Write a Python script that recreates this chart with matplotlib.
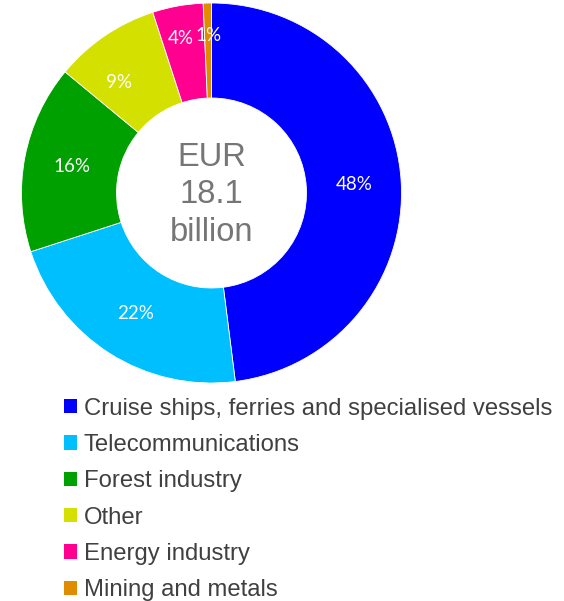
import matplotlib
matplotlib.use("Agg")
import matplotlib.pyplot as plt
import numpy as np

sectors = ["Cruise ships, ferries and specialised vessels", "Telecommunications",
           "Forest industry", "Other", "Energy industry", "Mining and metals"]
shares = [48.0, 22.0, 16.0, 9.0, 4.3, 0.7]
colors = ["#0000FF", "#00BFFF", "#00A000", "#D4E000", "#FF0090", "#E08C00"]
label_dist = [0.75, 0.75, 0.75, 0.76, 0.83, 0.83]
center_text = "EUR\n18.1\nbillion"

fig = plt.figure(figsize=(5.64, 6.01), dpi=100)
W, H = 564, 601
cx, cy, r = 211.5, 193, 190
ax = fig.add_axes([(cx - r) / W, 1 - (cy + r) / H, 2 * r / W, 2 * r / H])

wedges, _ = ax.pie(shares, colors=colors, startangle=90, counterclock=False,
                   radius=1, wedgeprops=dict(width=0.5, edgecolor="white", linewidth=0.6))
ax.set_xlim(-1, 1)
ax.set_ylim(-1, 1)
ax.set_aspect("equal")
ax.axis("off")

total = sum(shares)
cum = 0
for i, (val, d) in enumerate(zip(shares, label_dist)):
    mid = (cum + val / 2) / total * 2 * np.pi
    cum += val
    if i == 3:
        mid -= 0.1
    if i == 4:
        mid -= 0.02
    ax.text(d * np.sin(mid), d * np.cos(mid), "%.0f%%" % (val / total * 100),
            ha="center", va="center", color="white", fontsize=13.5, family="Lato")

ax.text(0, -0.01, center_text, ha="center", va="center", color="#767676",
        fontsize=23.5, family="Liberation Sans", linespacing=1.28)

leg = fig.legend(wedges, sectors, loc="upper left", bbox_to_anchor=(54 / W, 1 - 388 / H),
                 frameon=False, prop=dict(family="Liberation Sans", size=17.2),
                 handlelength=0.55, handleheight=0.55, handletextpad=0.3,
                 labelspacing=0.6, borderaxespad=0)
for t in leg.get_texts():
    t.set_color("#404040")
for h in leg.legend_handles:
    h.set_edgecolor("none")

fig.savefig("out.png", dpi=100, facecolor="white")
